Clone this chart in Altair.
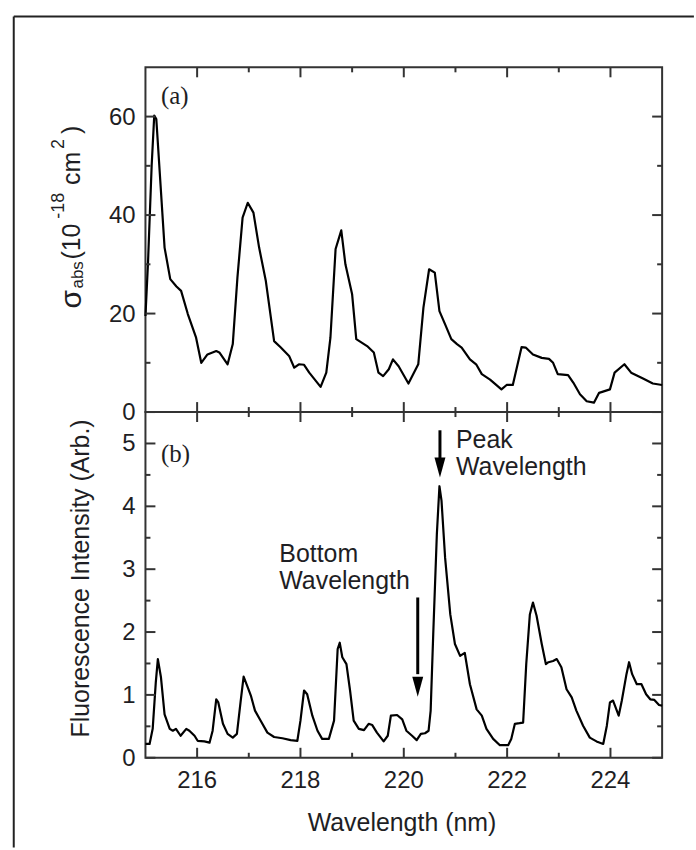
import altair as alt
import pandas as pd

# ---------------- data ----------------
abs_wavelength = [215.00, 215.05, 215.12, 215.17, 215.21, 215.37, 215.48, 215.60, 215.69,
                  215.82, 215.98, 216.08, 216.20, 216.37, 216.43, 216.59, 216.69, 216.78,
                  216.88, 216.98, 217.09, 217.20, 217.33, 217.49, 217.62, 217.78, 217.88,
                  217.97, 218.07, 218.17, 218.39, 218.50, 218.58, 218.68, 218.79, 218.87,
                  219.00, 219.08, 219.29, 219.42, 219.51, 219.60, 219.71, 219.79, 219.90,
                  220.09, 220.28, 220.38, 220.49, 220.60, 220.69, 220.80, 220.92, 221.03,
                  221.12, 221.28, 221.40, 221.51, 221.67, 221.89, 221.99, 222.11, 222.28,
                  222.36, 222.50, 222.67, 222.81, 222.89, 222.98, 223.18, 223.28, 223.41,
                  223.54, 223.68, 223.78, 223.99, 224.08, 224.27, 224.40, 224.63, 224.82,
                  225.00]
abs_sigma = [19.5, 30.5, 50.0, 60.2, 59.5, 33.4, 27.0, 25.5, 24.6,
             19.9, 15.1, 10.0, 11.7, 12.4, 12.1, 9.7, 13.8, 27.3,
             39.5, 42.5, 40.5, 33.4, 26.6, 14.4, 13.1, 11.4, 9.0,
             9.7, 9.6, 8.0, 5.1, 8.0, 15.1, 33.1, 36.9, 30.0,
             23.9, 14.8, 13.4, 12.1, 8.0, 7.3, 8.7, 10.7, 9.3,
             5.8, 9.7, 21.2, 29.0, 28.3, 20.5, 17.8, 14.8, 13.8,
             13.1, 10.7, 9.7, 7.7, 6.6, 4.6, 5.5, 5.5, 13.2,
             13.1, 11.7, 11.0, 10.8, 10.0, 7.7, 7.5, 6.0, 3.6,
             2.2, 1.9, 3.9, 4.6, 8.0, 9.7, 8.0, 6.8, 5.8,
             5.5]

fl_wavelength = [215.00, 215.08, 215.14, 215.20, 215.24, 215.30, 215.37, 215.47, 215.53,
                 215.59, 215.68, 215.79, 215.85, 215.95, 216.01, 216.14, 216.24, 216.30,
                 216.37, 216.41, 216.50, 216.59, 216.69, 216.77, 216.84, 216.90, 216.98,
                 217.04, 217.12, 217.23, 217.36, 217.49, 217.65, 217.81, 217.94, 218.00,
                 218.07, 218.13, 218.23, 218.33, 218.42, 218.55, 218.65, 218.72, 218.76,
                 218.81, 218.89, 218.96, 219.03, 219.13, 219.23, 219.32, 219.39, 219.48,
                 219.61, 219.69, 219.75, 219.87, 219.97, 220.05, 220.16, 220.25, 220.33,
                 220.41, 220.48, 220.52, 220.57, 220.64, 220.69, 220.73, 220.80, 220.90,
                 220.99, 221.09, 221.18, 221.28, 221.41, 221.51, 221.60, 221.73, 221.86,
                 222.02, 222.08, 222.15, 222.24, 222.31, 222.37, 222.44, 222.50, 222.57,
                 222.67, 222.75, 222.80, 222.89, 222.96, 223.05, 223.15, 223.25, 223.34,
                 223.47, 223.60, 223.73, 223.86, 223.93, 223.99, 224.05, 224.16, 224.22,
                 224.31, 224.36, 224.42, 224.51, 224.60, 224.69, 224.77, 224.85, 224.94,
                 225.00]
fl_intensity = [0.22, 0.22, 0.46, 1.20, 1.57, 1.28, 0.69, 0.46, 0.43,
                0.46, 0.35, 0.46, 0.43, 0.35, 0.27, 0.26, 0.24, 0.43,
                0.93, 0.88, 0.54, 0.38, 0.32, 0.38, 0.88, 1.29, 1.12,
                0.99, 0.75, 0.59, 0.40, 0.33, 0.31, 0.28, 0.27, 0.59,
                1.07, 1.01, 0.67, 0.43, 0.30, 0.30, 0.59, 1.73, 1.83,
                1.60, 1.49, 1.07, 0.59, 0.46, 0.44, 0.54, 0.52, 0.40,
                0.26, 0.35, 0.67, 0.68, 0.61, 0.43, 0.35, 0.28, 0.38,
                0.39, 0.43, 0.75, 1.97, 3.56, 4.32, 4.09, 3.18, 2.28,
                1.81, 1.62, 1.67, 1.17, 0.77, 0.67, 0.46, 0.30, 0.20,
                0.20, 0.30, 0.54, 0.55, 0.56, 1.49, 2.28, 2.47, 2.26,
                1.81, 1.49, 1.52, 1.54, 1.57, 1.44, 1.09, 0.96, 0.75,
                0.51, 0.32, 0.26, 0.22, 0.51, 0.88, 0.91, 0.67, 0.91,
                1.33, 1.52, 1.33, 1.17, 1.17, 1.01, 0.93, 0.92, 0.84,
                0.83]

x_domain = [215, 225]
x_major = [216, 218, 220, 222, 224]
x_minor = [217, 219, 221, 223]
abs_domain = [0, 70]
abs_major = [0, 20, 40, 60]
abs_minor = [10, 30, 50]
fl_domain = [0, 5.5]
fl_major = [0, 1, 2, 3, 4, 5]
fl_minor = [0.5, 1.5, 2.5, 3.5, 4.5]

arrow_x = [220.70, 220.27]
arrow_top = [5.21, 2.55]
arrow_base = [4.75, 1.33]
arrow_tip = [4.46, 0.97]

note_text = ["Peak", "Wavelength", "Bottom", "Wavelength"]
note_x = [221.01, 221.01, 217.59, 217.59]
note_y = [4.93, 4.50, 3.11, 2.69]

tag_a = "(a)"
tag_b = "(b)"
tag_x = [215.30]
tag_a_y = [62.5]
tag_b_y = [4.71]

fl_title = "Fluorescence Intensity (Arb.)"
x_title = "Wavelength (nm)"

# ---------------- styling ----------------
SANS = "Liberation Sans"
SERIF = "Liberation Serif"
TEXT = "#1e1e24"
FRAME = "#333333"
W = 518.6
H_TOP = 346
H_BOT = 347
MAJOR = 10   # tick length, px
MINOR = 5

abs_df = pd.DataFrame({"wl": abs_wavelength, "v": abs_sigma})
fl_df = pd.DataFrame({"wl": fl_wavelength, "v": fl_intensity})
one = pd.DataFrame({"k": [0]})


class Ctx:
    def __init__(self, ydom, height):
        self.ydom = ydom
        self.xs = alt.Scale(domain=x_domain, nice=False, zero=False)
        self.ys = alt.Scale(domain=ydom, nice=False, zero=False)
        self.height = height

    def X(self, field):
        return alt.X(field, scale=self.xs, axis=None)

    def Y(self, field):
        return alt.Y(field, scale=self.ys, axis=None)


def tick_table(c):
    """One table of tick segments; both ends are columns, drawn through the scales."""
    ypx = c.height / (c.ydom[1] - c.ydom[0])
    xpx = W / (x_domain[1] - x_domain[0])
    rows = []
    for vals, ln in ((x_major, MAJOR), (x_minor, MINOR)):
        for v in vals:
            rows.append(dict(x1=v, x2=v, y1=c.ydom[0], y2=c.ydom[0] + ln / ypx))
            rows.append(dict(x1=v, x2=v, y1=c.ydom[1], y2=c.ydom[1] - ln / ypx))
    return pd.DataFrame(rows), ypx, xpx


def tick_layers(c, ymaj, ymin):
    xt, ypx, xpx = tick_table(c)
    rows = []
    for vals, ln in ((ymaj, MAJOR), (ymin, MINOR)):
        for v in vals:
            rows.append(dict(x1=x_domain[0], x2=x_domain[0] + ln / xpx, y1=v, y2=v))
            rows.append(dict(x1=x_domain[1], x2=x_domain[1] - ln / xpx, y1=v, y2=v))
    yt = pd.DataFrame(rows)
    out = []
    for tbl in (xt, yt):
        out.append(alt.Chart(tbl).mark_rule(color=FRAME, strokeWidth=2).encode(
            x=c.X("x1:Q"), x2="x2:Q", y=c.Y("y1:Q"), y2="y2:Q"))
    return out


def y_labels(values):
    def make(c):
        d = pd.DataFrame({"lab": values})
        return alt.Chart(d).mark_text(font=SANS, fontSize=24, color=TEXT, align="right",
                                      baseline="middle", dy=1).encode(
            y=c.Y("lab:Q"), x=alt.value(-10), text=alt.Text("lab:Q", format="d"))
    return make


def x_labels(values):
    def make(c):
        d = pd.DataFrame({"lab": values})
        return alt.Chart(d).mark_text(font=SANS, fontSize=24, color=TEXT, align="center",
                                      baseline="alphabetic").encode(
            x=c.X("lab:Q"), y=alt.value(c.height + 30.5), text=alt.Text("lab:Q", format="d"))
    return make


def fixed_text(text, px, py, size, angle=0, align="center", font=SANS):
    def make(c):
        kw = dict(text=text, font=font, fontSize=size, color=TEXT, align=align,
                  baseline="alphabetic")
        if angle:
            kw["angle"] = angle
        return alt.Chart(one).mark_text(**kw).encode(x=alt.value(px), y=alt.value(py))
    return make


def panel(df, c, ymaj, ymin, extras):
    line = alt.Chart(df).mark_line(color="black", strokeWidth=2.2, strokeJoin="round").encode(
        x=c.X("wl:Q"), y=c.Y("v:Q"))
    layers = [line] + tick_layers(c, ymaj, ymin) + [e(c) for e in extras]
    return alt.layer(*layers).properties(width=W, height=c.height)


def tag_layer(text, ys_values):
    def make(c):
        d = pd.DataFrame({"tx": tag_x, "ty": ys_values})
        return alt.Chart(d).mark_text(text=text, font=SERIF, fontSize=25, color=TEXT,
                                      align="left", baseline="alphabetic").encode(
            x=c.X("tx:Q"), y=c.Y("ty:Q"))
    return make


# rotated, composed title of the absorption panel (sub/superscripts)
title_segments = [  # text, x px, y px (relative to panel origin), font size
    ("σ", -64.5, 242, 30),
    ("abs", -62.5, 222, 17),
    ("(10", -65.5, 193, 25),
    ("-18", -82.0, 152, 18),
    ("cm", -65.5, 118, 25),
    ("2", -82.0, 82, 18),
    (")", -65.5, 67, 25),
]


def frame_layers():
    def top_rule(c):
        return alt.Chart(one).mark_rule(color="#222222", strokeWidth=2).encode(
            x=alt.value(-132.2), x2=alt.value(550.5), y=alt.value(-51))

    def left_rule(c):
        return alt.Chart(one).mark_rule(color="#222222", strokeWidth=2).encode(
            x=alt.value(-132.2), y=alt.value(-51), y2=alt.value(783))
    return [top_rule, left_rule]


def arrow_layers():
    d = pd.DataFrame({"ax": arrow_x, "atop": arrow_top, "abase": arrow_base, "atip": arrow_tip})

    def shaft(c):
        return alt.Chart(d).mark_rule(color="black", strokeWidth=3).encode(
            x=c.X("ax:Q"), y=c.Y("atop:Q"), y2="abase:Q")

    def head(c):
        return alt.Chart(d).mark_point(shape="M-0.55,-2L0.55,-2L0,0Z", size=400,
                                       filled=True, fill="black", opacity=1,
                                       strokeWidth=0).encode(
            x=c.X("ax:Q"), y=c.Y("atip:Q"))
    return [shaft, head]


def notes_layer(c):
    d = pd.DataFrame({"nt": note_text, "nx": note_x, "ny": note_y})
    return alt.Chart(d).mark_text(font=SANS, fontSize=25, color=TEXT, align="left",
                                  baseline="alphabetic").encode(
        x=c.X("nx:Q"), y=c.Y("ny:Q"), text="nt:N")


top_ctx = Ctx(abs_domain, H_TOP)
top = panel(
    abs_df, top_ctx, abs_major, abs_minor,
    frame_layers()
    + [fixed_text(t, px, py, fs, angle=270, align="left") for t, px, py, fs in title_segments]
    + [tag_layer(tag_a, tag_a_y), y_labels(abs_major)],
)

bot_ctx = Ctx(fl_domain, H_BOT)
bottom = panel(
    fl_df, bot_ctx, fl_major, fl_minor,
    [tag_layer(tag_b, tag_b_y)] + arrow_layers() + [notes_layer,
     y_labels(fl_major), x_labels(x_major),
     fixed_text(fl_title, -56.5, 167, 25, angle=270),
     fixed_text(x_title, 257.5, 420.5, 25)],
)

chart = alt.vconcat(top, bottom, spacing=0, bounds="flush").properties(
    padding={"left": 11, "top": 13, "right": 0, "bottom": 0}
).configure_view(stroke=FRAME, strokeWidth=2)

chart.save("out.html", embed_options={"renderer": "svg", "actions": False})
